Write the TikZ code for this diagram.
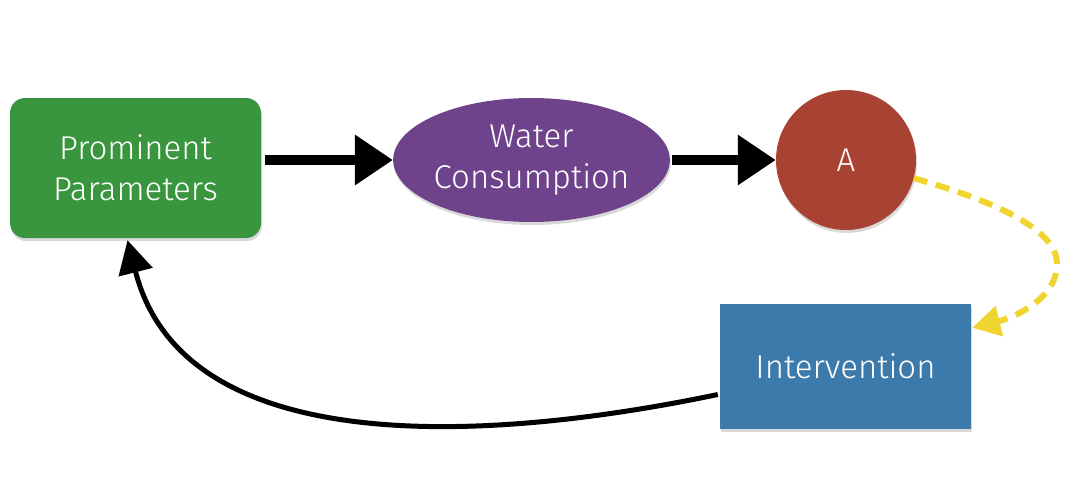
\documentclass[tikz,border=0pt]{standalone}
\usepackage{fontspec}
\setmainfont{Fira Sans}[UprightFont={* Light}]
\usepackage{xcolor}
\usetikzlibrary{arrows.meta,shapes.geometric,shadows,calc}
\definecolor{paramcolor}{RGB}{58,150,62}
\definecolor{watercolor}{RGB}{111,67,140}
\definecolor{acolor}{RGB}{168,66,50}
\definecolor{intercolor}{RGB}{60,122,172}
\definecolor{loopcolor}{RGB}{240,212,48}

\begin{document}
\begin{tikzpicture}[
    x=1pt, y=-1pt,
    box/.style={rectangle, inner sep=0pt, text=white, align=center, font=\fontsize{33}{41}\selectfont, drop shadow={opacity=0.3, shadow xshift=1pt, shadow yshift=-3pt}},
    arrow/.style={-{Triangle[length=38pt,width=48pt]}, line width=10pt, black},
    curvearrow/.style={-{Triangle[length=33pt,width=34pt]}, line width=5pt, black},
    dasharrow/.style={-{Triangle[length=28pt,width=30pt]}, line width=6pt, loopcolor, dash pattern=on 14pt off 9pt}
]

\useasboundingbox (0,0) rectangle (1075,479);

% Parameters
\node[box, fill=paramcolor, rounded corners=15pt, minimum width=251pt, minimum height=140pt] (pp) at (135.5,168) {Prominent\\Parameters};

% Water
\node[box, ellipse, fill=watercolor, minimum width=273pt, minimum height=124pt] (wc) at (531.5,160) {Water\\Consumption};

% A
\node[box, circle, fill=acolor, minimum size=140pt] (a) at (846,160) {A};

% Intervention
\node[box, fill=intercolor, minimum width=251pt, minimum height=125pt] (iv) at (845.5,366.5) {Intervention};

% Arrows
\draw[arrow] ($(pp.east |- wc.west)+(4,0)$) -- (wc.west);
\draw[arrow] ($(wc.east)+(2,0)$) -- (a.west);
\draw[dasharrow] (a.-15) .. controls (990,200) and (1058,228) .. (1057,265) .. controls (1056,300) and (1012,318) .. ($(iv.north east)+(1,24)$);
\draw[curvearrow] ($(iv.west)+(-2,28)$) .. controls (500,440) and (185,465) .. ($(pp.south)+(-8,2)$);

\end{tikzpicture}
\end{document}
